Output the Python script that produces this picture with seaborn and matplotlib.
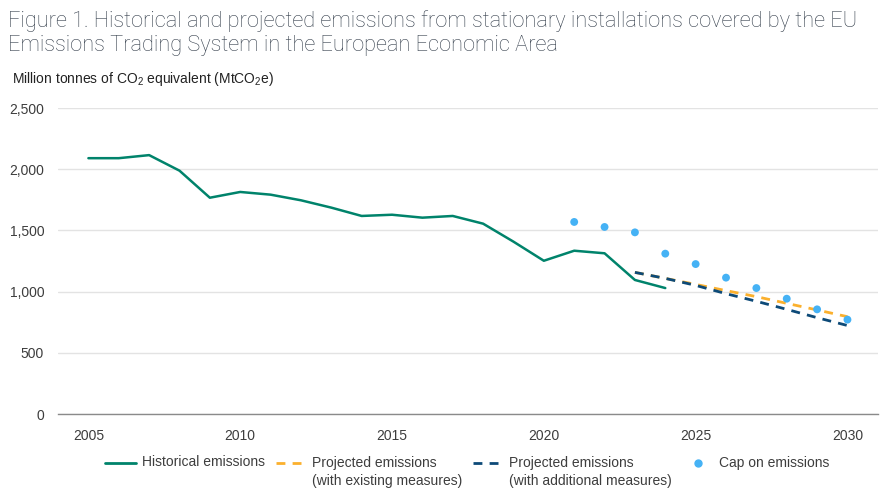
import pandas as pd
import seaborn as sns
import matplotlib.pyplot as plt
from matplotlib.lines import Line2D
from matplotlib.legend_handler import HandlerLine2D

# values (MtCO2e)
hist_years = list(range(2005, 2025))
hist_vals = [2090, 2090, 2115, 1988, 1767, 1814, 1792, 1746, 1686, 1618,
             1628, 1604, 1618, 1555, 1408, 1252, 1334, 1313, 1095, 1029]

proj_years = list(range(2023, 2031))
wem_vals = [1157, 1108, 1059, 1008, 959, 904, 850, 795]
wam_vals = [1157, 1108, 1051, 983, 921, 855, 787, 723]

cap_years = list(range(2021, 2031))
cap_vals = [1569, 1528, 1484, 1310, 1225, 1114, 1029, 942, 855, 771]

labels = ["Historical emissions\n ",
          "Projected emissions\n(with existing measures)",
          "Projected emissions\n(with additional measures)",
          "Cap on emissions\n "]
colors = ["#00836b", "#fbb02d", "#0d4a78", "#45b2f5"]

hist = pd.DataFrame({"year": hist_years, "value": hist_vals})
wem = pd.DataFrame({"year": proj_years, "value": wem_vals})
wam = pd.DataFrame({"year": proj_years, "value": wam_vals})
cap = pd.DataFrame({"year": cap_years, "value": cap_vals})

sns.set_style("white")
plt.rcParams["font.family"] = ["Liberation Sans", "DejaVu Sans"]
plt.rcParams["mathtext.fontset"] = "custom"
plt.rcParams["mathtext.rm"] = "Liberation Sans"
plt.rcParams["mathtext.it"] = "Liberation Sans"

fig = plt.figure(figsize=(8.93, 5.0), dpi=100)
ax = fig.add_axes([0.065, 0.172, 0.918, 0.612])

dash = (0, (3.2, 2.6))
sns.lineplot(data=hist, x="year", y="value", color=colors[0], lw=1.8, ax=ax)
sns.lineplot(data=wem, x="year", y="value", color=colors[1], lw=2.0,
             linestyle=dash, ax=ax)
sns.lineplot(data=wam, x="year", y="value", color=colors[2], lw=2.0,
             linestyle=dash, ax=ax)
sns.scatterplot(data=cap, x="year", y="value", color=colors[3], s=32,
                edgecolor="none", ax=ax, zorder=5)

ax.set_xlim(2004, 2031)
ax.set_ylim(0, 2500)
ax.set_xticks(range(2005, 2031, 5))
ax.set_yticks(range(0, 2501, 500))
ax.set_yticklabels([f"{v:,}" for v in range(0, 2501, 500)])
ax.set_xlabel("")
ax.set_ylabel("")
ax.grid(axis="y", color="#e3e3e3", lw=1)
ax.set_axisbelow(True)
for s in ["top", "right", "left"]:
    ax.spines[s].set_visible(False)
ax.spines["bottom"].set_color("#8a8a8a")
ax.spines["bottom"].set_linewidth(1)
ax.tick_params(axis="both", length=0, labelsize=10, colors="#3d3d3d")
ax.tick_params(axis="y", pad=10)
ax.tick_params(axis="x", pad=11)

fig.text(0.009, 0.98, "Figure 1. Historical and projected emissions from stationary installations covered by the EU\n"
         "Emissions Trading System in the European Economic Area",
         fontsize=15.7, color="#36404d", va="top", ha="left",
         family=["Roboto", "DejaVu Sans"], fontweight="light", linespacing=1.2)
fig.text(0.013, 0.843, r"Million tonnes of CO$_2$ equivalent (MtCO$_2$e)",
         fontsize=10, color="#222222", va="center", ha="left")


class TopHandler(HandlerLine2D):
    # put the legend key next to the first line of a two-line label
    def create_artists(self, legend, orig_handle, xdescent, ydescent,
                       width, height, fontsize, trans):
        return super().create_artists(legend, orig_handle, xdescent,
                                      ydescent - 1.37 * fontsize, width, height,
                                      fontsize, trans)


handles = [
    Line2D([], [], color=colors[0], lw=2),
    Line2D([], [], color=colors[1], lw=2, linestyle=dash),
    Line2D([], [], color=colors[2], lw=2, linestyle=dash),
    Line2D([], [], color=colors[3], marker="o", lw=0, markersize=5),
]
leg = fig.legend(handles, labels, loc="upper center", bbox_to_anchor=(0.5235, 0.114),
                 ncol=4, frameon=False, fontsize=10, handlelength=2.2,
                 handletextpad=0.4, columnspacing=0.8, labelcolor="#3d3d3d",
                 handler_map={Line2D: TopHandler()})
for t in leg.get_texts():
    t.set_linespacing(1.4)

fig.savefig("out.png", dpi=100)
